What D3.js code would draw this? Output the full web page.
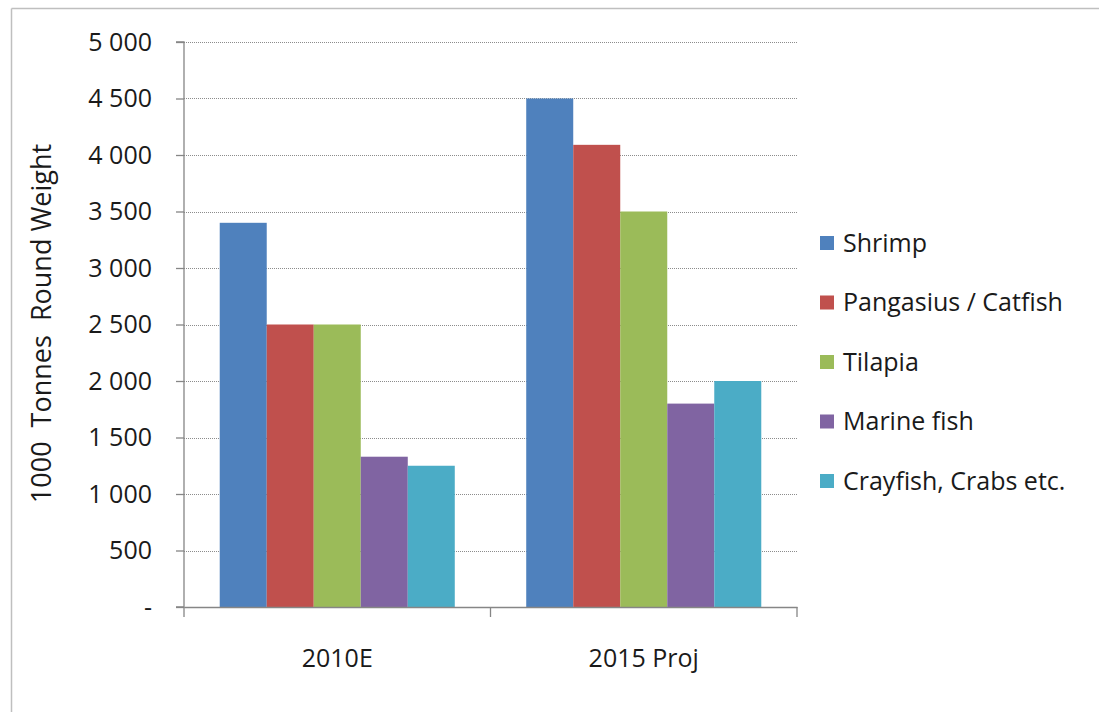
<!DOCTYPE html>
<html>
<head>
<meta charset="utf-8">
<script src="https://cdn.jsdelivr.net/npm/d3@7"></script>
<style>
  body { margin: 0; background: #fff; }
  svg { display: block; font-family: "Open Sans", sans-serif; }
</style>
</head>
<body>
<svg id="chart" width="1099" height="712"></svg>
<script>
var categories = ["2010E", "2015 Proj"];
var seriesNames = ["Shrimp", "Pangasius / Catfish", "Tilapia", "Marine fish", "Crayfish, Crabs etc."];
var seriesColors = ["#4F81BD", "#C0504D", "#9BBB59", "#8064A2", "#4BACC6"];
var values2010 = [3400, 2500, 2500, 1330, 1250];
var values2015 = [4500, 4090, 3500, 1800, 2000];
var yTicks = [0, 500, 1000, 1500, 2000, 2500, 3000, 3500, 4000, 4500, 5000];

var data = categories.map(function(c, i) {
  var vals = i === 0 ? values2010 : values2015;
  return { cat: c, values: seriesNames.map(function(s, j) { return { key: s, value: vals[j] }; }) };
});

var svg = d3.select("#chart");

// outer frame (top + left visible)
svg.append("line").attr("x1", 11.5).attr("x2", 1099).attr("y1", 8.5).attr("y2", 8.5)
  .attr("stroke", "#bfbfbf").attr("stroke-width", 1.5);
svg.append("line").attr("x1", 11.5).attr("x2", 11.5).attr("y1", 8.5).attr("y2", 712)
  .attr("stroke", "#bfbfbf").attr("stroke-width", 1.5);

var margin = { left: 184, top: 42, right: 302, bottom: 105 },
  width = 1099 - margin.left - margin.right,
  height = 712 - margin.top - margin.bottom;

var g = svg.append("g").attr("transform", "translate(" + margin.left + "," + margin.top + ")");

var x0 = d3.scaleBand().domain(categories).range([0, width]).padding(0);
var x1 = d3.scaleBand().domain(seriesNames).range([0, x0.bandwidth()]).paddingInner(0).paddingOuter(0.76);
var y = d3.scaleLinear().domain([0, 5000]).range([height, 0]);
var color = d3.scaleOrdinal().domain(seriesNames).range(seriesColors);

// gridlines
g.append("g")
  .selectAll("line")
  .data(yTicks.filter(function(d) { return d > 0; }))
  .enter()
  .append("line")
  .attr("x1", 0)
  .attr("x2", width)
  .attr("y1", function(d) { return Math.round(y(d)) + 0.5; })
  .attr("y2", function(d) { return Math.round(y(d)) + 0.5; })
  .attr("stroke", "#8c8c8c")
  .attr("stroke-dasharray", "1,1");

// bars
g.append("g")
  .selectAll("g")
  .data(data)
  .enter()
  .append("g")
  .attr("transform", function(d) { return "translate(" + x0(d.cat) + ",0)"; })
  .selectAll("rect")
  .data(function(d) { return d.values; })
  .enter()
  .append("rect")
  .attr("x", function(d) { return x1(d.key); })
  .attr("y", function(d) { return y(d.value); })
  .attr("width", x1.bandwidth())
  .attr("height", function(d) { return height - y(d.value); })
  .attr("fill", function(d) { return color(d.key); });

// y axis
var yAxis = g.append("g")
  .attr("class", "axis")
  .call(d3.axisLeft(y).tickValues(yTicks).tickSize(8).tickPadding(24)
    .tickFormat(function(d) { return d === 0 ? "-" : d3.format(",")(d).replace(",", " "); }));
yAxis.selectAll("path, line").attr("stroke", "#868686").attr("stroke-width", 1.3);
yAxis.select(".domain").attr("d", "M-8," + height + "H0V0H-8");
yAxis.selectAll("text")
  .attr("font-family", "Open Sans, sans-serif")
  .attr("font-size", 25)
  .attr("fill", "#1a1a1a");

// x axis
var xAxis = g.append("g")
  .attr("class", "axis")
  .attr("transform", "translate(0," + height + ")")
  .call(d3.axisBottom(x0).tickSize(0).tickPadding(42));
xAxis.select(".domain").attr("stroke", "#868686").attr("stroke-width", 1.3);
xAxis.selectAll("text")
  .attr("font-family", "Open Sans, sans-serif")
  .attr("font-size", 25)
  .attr("fill", "#1a1a1a");
xAxis.append("g")
  .selectAll("line")
  .data([0, 1, 2])
  .enter()
  .append("line")
  .attr("x1", function(d) { return d * x0.step(); })
  .attr("x2", function(d) { return d * x0.step(); })
  .attr("y1", 0)
  .attr("y2", 10)
  .attr("stroke", "#868686")
  .attr("stroke-width", 1.3);

// y axis title
svg.append("text")
  .attr("transform", "translate(51," + (margin.top + height / 2 - 1) + ") rotate(-90)")
  .attr("text-anchor", "middle")
  .attr("font-size", 27)
  .attr("fill", "#1a1a1a")
  .attr("xml:space", "preserve")
  .style("white-space", "pre")
  .text("1000  Tonnes  Round Weight");

// legend
var legend = svg.append("g")
  .selectAll("g")
  .data(seriesNames)
  .enter()
  .append("g")
  .attr("transform", function(d, i) { return "translate(820," + (243 + i * 59.5) + ")"; });

legend.append("rect")
  .attr("x", 0)
  .attr("y", -7)
  .attr("width", 14)
  .attr("height", 14)
  .attr("fill", function(d) { return color(d); });

legend.append("text")
  .attr("x", 23)
  .attr("y", 0)
  .attr("dy", "0.35em")
  .attr("font-size", 25)
  .attr("fill", "#1a1a1a")
  .text(function(d) { return d; });
</script>
</body>
</html>
